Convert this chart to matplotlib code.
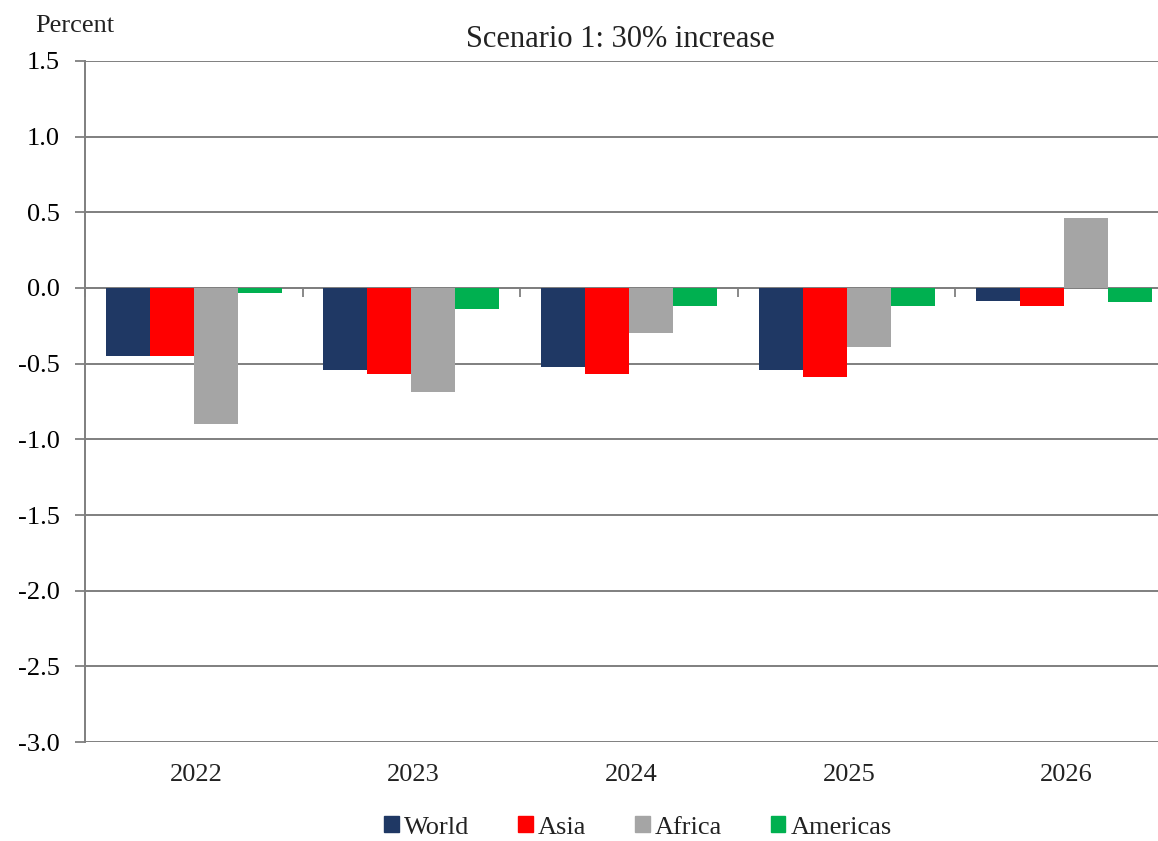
import numpy as np
import matplotlib.pyplot as plt
from matplotlib.patches import Patch
from matplotlib.transforms import blended_transform_factory

# data (percent deviation)
years = ["2022", "2023", "2024", "2025", "2026"]
series = ["World", "Asia", "Africa", "Americas"]
world = [-0.45, -0.545, -0.52, -0.545, -0.085]
asia = [-0.45, -0.57, -0.57, -0.585, -0.12]
africa = [-0.90, -0.69, -0.30, -0.39, 0.46]
americas = [-0.03, -0.14, -0.12, -0.12, -0.095]
colors = ["#1F3864", "#FF0000", "#A5A5A5", "#00B050"]
y_ticks = [1.5, 1.0, 0.5, 0.0, -0.5, -1.0, -1.5, -2.0, -2.5, -3.0]

plt.rcParams["font.family"] = ["Liberation Serif", "DejaVu Serif"]

fig = plt.figure(figsize=(11.58, 8.41), dpi=100)
# the plot area runs past the right edge of the picture, as in the original
ax = fig.add_axes([0.0734, 0.1177, 0.9396, 0.8098])

x = np.arange(len(years))
width = 0.202
values = [world, asia, africa, americas]
for i, (name, vals) in enumerate(zip(series, values)):
    ax.bar(x + (i - 2) * width, vals, width, align="edge",
           color=colors[i], label=name, zorder=3)

ax.set_xlim(-0.5, len(years) - 0.5)
ax.set_ylim(-3.0, 1.5)
ax.set_yticks(y_ticks)
ax.set_yticklabels([f"{v:.1f}" for v in y_ticks], fontsize=19)
ax.yaxis.grid(True, color="#7f7f7f", linewidth=1.4, zorder=0)
ax.tick_params(axis="y", length=7, width=1.3, color="#7f7f7f", pad=11)

# horizontal axis crosses at zero, tick marks between categories
ax.spines["bottom"].set_position(("data", 0))
ax.spines["bottom"].set_color("#7f7f7f")
ax.spines["bottom"].set_linewidth(1.4)
ax.spines["left"].set_color("#7f7f7f")
ax.spines["left"].set_linewidth(1.4)
ax.spines["top"].set_visible(False)
ax.spines["right"].set_visible(False)
ax.set_xticks(np.arange(len(years) + 1) - 0.5)
ax.set_xticklabels([])
ax.tick_params(axis="x", length=6.5, width=1.3, color="#7f7f7f", direction="out")

# category labels below the plot area
trans = blended_transform_factory(ax.transData, ax.transAxes)
for xi, yr in zip(x, years):
    ax.text(xi + 0.01, -0.033, yr, transform=trans, ha="center", va="top",
            fontsize=19, color="#222222")

fig.text(0.536, 0.953, "Scenario 1: 30% increase", fontsize=22,
         ha="center", va="center", color="#222222")
fig.text(0.065, 0.969, "Percent", fontsize=19, ha="center", va="center",
         color="#222222")

handles = [Patch(color=c, label=s) for c, s in zip(colors, series)]
fig.legend(handles=handles, loc="center", bbox_to_anchor=(0.551, 0.016),
           ncol=4, frameon=False, fontsize=19, handlelength=0.55,
           handleheight=0.55, handletextpad=0.2, columnspacing=1.85,
           labelcolor="#222222")

fig.savefig("out.png", dpi=100)
